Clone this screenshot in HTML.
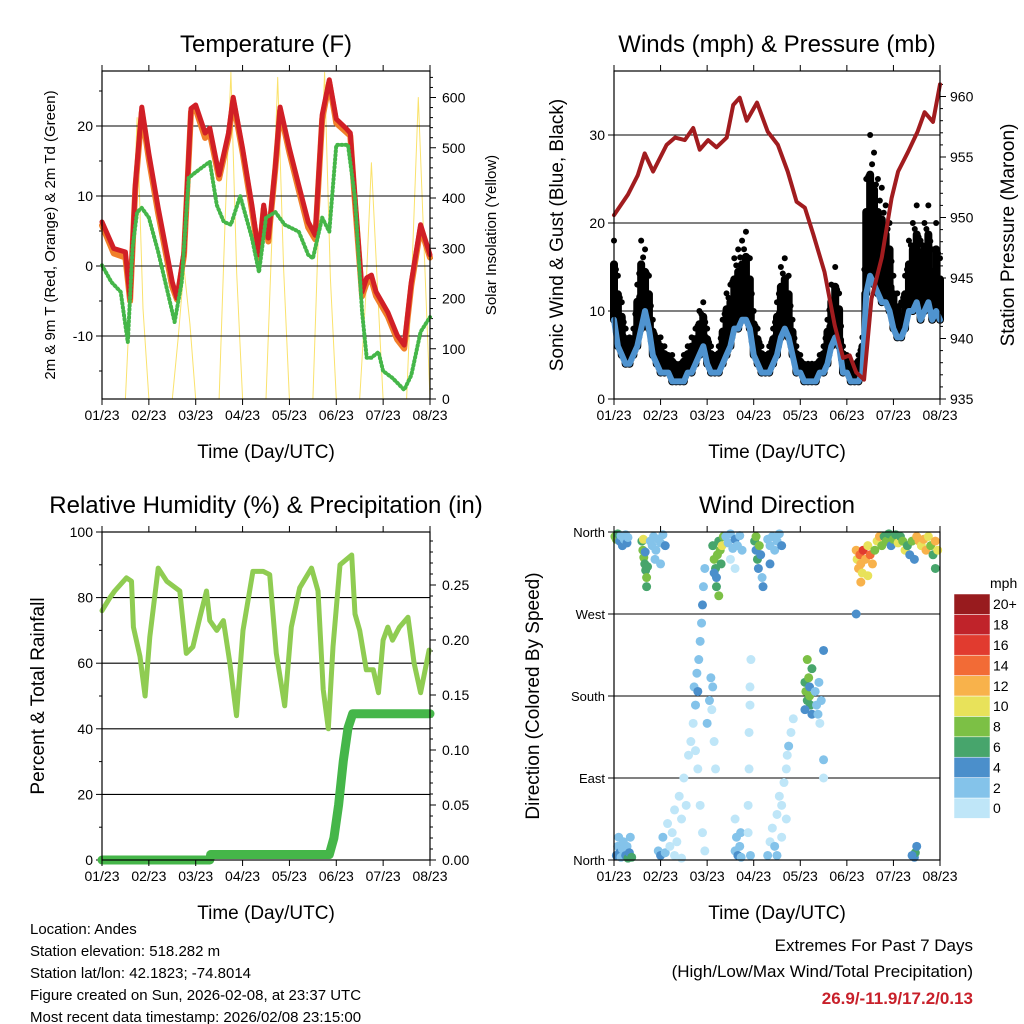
<!DOCTYPE html>
<html><head><meta charset="utf-8">
<style>
html,body{margin:0;padding:0;background:#fff;}
svg{display:block;font-family:"Liberation Sans",Arial,sans-serif;}
</style></head>
<body>
<svg id="c" width="1024" height="1024" viewBox="0 0 1024 1024" xmlns="http://www.w3.org/2000/svg">
<rect x="0" y="0" width="1024" height="1024" fill="#fff"/>
<g id="g"></g>
<!-- footer -->
<g font-size="15" fill="#000">
<text x="30" y="934">Location: Andes</text>
<text x="30" y="956">Station elevation: 518.282 m</text>
<text x="30" y="978">Station lat/lon: 42.1823; -74.8014</text>
<text x="30" y="1000">Figure created on Sun, 2026-02-08, at 23:37 UTC</text>
<text x="30" y="1022">Most recent data timestamp: 2026/02/08 23:15:00</text>
</g>
<g font-size="17" text-anchor="end">
<text x="973" y="951">Extremes For Past 7 Days</text>
<text x="973" y="977">(High/Low/Max Wind/Total Precipitation)</text>
<text x="973" y="1004" fill="#c8202a" font-weight="bold">26.9/-11.9/17.2/0.13</text>
</g>
</svg>
<script>
// ---------- DATA ----------
const dayLabels = ["01/23","02/23","03/23","04/23","05/23","06/23","07/23","08/23"];
const tempTime = [0,0.25,0.5,0.6,0.71,0.85,1.0,1.2,1.5,1.6,1.75,1.9,2.0,2.2,2.3,2.5,2.7,2.8,3.0,3.2,3.35,3.45,3.55,3.7,3.8,4.0,4.2,4.4,4.55,4.7,4.85,5.0,5.2,5.3,5.4,5.55,5.65,5.75,5.85,6.1,6.3,6.45,6.6,6.8,7.0];
const tempRed = [6.3,2.5,2,-4.6,11.5,22.7,16,8.3,-2.3,-4.6,2,22.5,23,19,19.7,13,19,24.1,16.8,8.7,1.6,8.7,4,14.4,22.7,16.8,11.5,6.3,4.4,21.6,26.6,21,19.7,19,9.7,-3.7,-1.7,-1.3,-3.7,-6.6,-9.9,-11.3,-2.3,5.9,1.6];
const tempOrange = [5.8,1.8,1.2,-5,11,22,15.2,7.5,-3,-4.8,1.5,22,22.4,18.3,19,12.5,18.4,23.6,16.2,8,1.2,8.2,3.5,14,22.2,16.2,10.8,5.5,3.8,21,26.2,20.4,19.2,18.6,9,-4.3,-2.4,-2,-4.3,-7.2,-10.5,-11.8,-2.8,5.4,1.2];
const dewTime = [0,0.2,0.4,0.55,0.65,0.75,0.85,1.0,1.2,1.4,1.55,1.7,1.85,2.0,2.3,2.45,2.6,2.75,2.95,3.2,3.35,3.5,3.7,3.9,4.2,4.4,4.5,4.7,4.85,5.0,5.25,5.4,5.55,5.65,5.75,5.9,6.0,6.2,6.45,6.6,6.8,7.0];
const dewVal = [0.1,-2.3,-3.7,-10.9,2.6,7.7,8.3,6.9,2,-3.7,-8,-2.3,12.6,13.4,14.9,8.7,6.3,5.9,10,4,-0.9,6.9,7.7,5.9,4.9,1.6,1.1,6.9,4.9,17.3,17.3,9.7,-6.6,-13.1,-13.1,-12.3,-15,-16,-17.7,-15.6,-9.4,-7.3];
const solarVal = [0,0,0,0,0,250,560,180, 0,0,0,0,0,120,260,150, 0,0,0,0,0,350,650,250, 0,0,0,0,0,320,640,260, 0,0,0,0,0,350,650,240, 0,0,0,0,0,200,470,230, 0,0,0,0,0,280,600,300, 0];
const tempTicks = [-10,0,10,20];
const solarTicks = [0,100,200,300,400,500,600];

const windVal = [9,6,5,4,4,5,6,8,10,8,5,4, 3,3,3,2,2,2,2,3,3,4,5,6, 4,3,3,3,4,5,6,8,8,9,9,8, 5,4,3,3,3,4,5,7,8,7,5,3, 3,2,2,2,2,3,3,4,6,7,6,3, 3,2,2,2,3,12,14,13,12,11,11,10, 8,7,7,8,10,10,11,9,10,11,9,10, 9];
const gustVal = [18,14,11,8,7,8,13,18,17,14,9,7, 7,6,5,5,4,4,5,6,7,8,10,11, 8,6,5,6,9,12,13,16,17,18,19,16, 10,8,6,5,6,8,11,15,16,14,9,6, 5,4,4,4,4,5,6,9,13,15,12,6, 5,4,4,5,7,25,30,28,25,24,22,20, 14,12,11,14,18,20,22,18,20,22,17,20, 16];
const presTime = [0,0.3,0.51,0.66,0.84,1.13,1.31,1.52,1.7,1.84,2.02,2.2,2.42,2.56,2.7,2.85,3.07,3.3,3.52,3.73,3.92,4.1,4.28,4.52,4.74,4.92,5.06,5.2,5.37,5.53,5.75,5.96,6.1,6.31,6.52,6.67,6.85,7.0];
const presVal = [950.2,951.9,953.5,955.3,953.8,956,956.6,956.4,957.4,955.6,956.4,955.8,956.6,959.3,959.9,958,959.5,957.1,956,953.8,951.3,950.8,948.6,945.5,941.1,938.4,938.6,937.2,936.6,943.3,946.7,951.6,953.8,955.4,957.1,958.7,957.9,961];
const windTicks = [0,10,20,30];
const presTicks = [935,940,945,950,955,960];

const rhTime = [0,0.17,0.27,0.52,0.63,0.67,0.81,0.92,1.02,1.2,1.38,1.66,1.8,1.94,2.09,2.23,2.3,2.45,2.59,2.73,2.87,3.01,3.22,3.44,3.58,3.72,3.9,4.04,4.22,4.47,4.61,4.72,4.83,4.93,5.08,5.33,5.4,5.5,5.64,5.79,5.9,6.0,6.1,6.2,6.35,6.53,6.66,6.8,6.98];
const rhVal = [76,80,82,86,85,71,62,50,68,89,85,82,63,65,74,82,73,70,73,60,44,70,88,88,87,63,47,71,83,89,82,52,40,65,90,93,75,70,58,58,51,67,71,67,71,74,60,51,64];
const precipTime = [0,2.3,2.32,4.85,4.95,5.05,5.15,5.25,5.35,7.0];
const precipVal = [0,0,0.005,0.005,0.02,0.05,0.09,0.12,0.133,0.133];
const rhTicks = [0,20,40,60,80,100];
const precipTicks = [0,0.05,0.10,0.15,0.20,0.25];

const wdTime = [0.02,0.05,0.08,0.12,0.15,0.18,0.22,0.25,0.28,0.3, 0.05,0.08,0.1,0.12,0.15,0.18,0.2,0.25,0.28,0.3,0.33,0.35,0.38, 0.6,0.62,0.64,0.66,0.68,0.7,0.72,0.63,0.67,0.7, 0.78,0.82,0.85,0.9,0.95,1.0,1.05,1.1,0.88,1.0, 0.95,1.0,1.05,1.1,1.15,1.2,1.25,1.3,1.35,1.4,1.45,1.5,1.55,1.3,1.45,1.6,1.65, 1.7,1.75,1.72,1.78,1.8,1.82,1.85,1.88,1.9,1.92,1.95,1.75,1.8,1.85,1.9,1.95,2.0,2.05,2.08,2.1,2.12,2.15,2.18, 2.12,2.15,2.18,2.2,2.22,2.25,2.28,2.3,2.32,2.35,2.2,2.25,2.15, 2.4,2.45,2.5,2.55,2.6,2.65,2.7,2.75,2.5,2.6, 2.6,2.63,2.66,2.7,2.73,2.6,2.72, 2.88,2.9,2.9,2.92,2.92,2.94,2.88,2.93, 3.02,3.05,3.08,3.1,3.12,3.15,3.18,3.2,3.05, 3.3,3.35,3.4,3.45,3.5,3.55,3.6,3.35, 3.3,3.35,3.4,3.45,3.5,3.55,3.6,3.65,3.7,3.72,3.75,3.8,3.85,3.6,3.7,3.5, 4.1,4.12,4.15,4.18,4.2,4.22,4.25,4.15,4.2,4.25,4.1, 4.32,4.35,4.38,4.4,4.42,4.45,4.5,4.5,4.5, 5.2,5.22,5.25,5.28,5.3,5.33,5.35,5.4,5.45,5.5,5.55,5.6,5.65,5.7,5.75,5.3,5.45,5.2, 5.8,5.85,5.9,5.95,6.0,6.05,6.1,6.15,6.2,6.25,6.3,6.35,6.4,6.45, 6.5,6.55,6.6,6.65,6.7,6.75,6.8,6.85,6.9,6.95,6.9, 6.45,6.47,6.5,6.4];
const wdDir = [355,352,358,350,356,345,352,357,348,354, 5,15,25,8,3,12,20,5,15,2,8,25,3, 350,340,332,325,318,310,322,352,338,300, 350,345,355,340,352,348,357,345,330,325, 10,5,25,8,40,15,30,55,20,70,45,90,60,5,2,115,130, 150,170,190,205,185,220,240,260,280,300,320,120,100,60,30,10,150,175,200,165,190,130,100, 345,330,320,310,335,350,340,325,345,355,300,290,315, 355,348,358,342,352,345,356,340,330,320, 10,25,5,15,3,45,30, 60,100,140,170,190,220,30,5, 350,340,330,320,345,335,310,300,355, 352,345,355,340,350,358,345,325, 5,20,35,15,50,70,60,85,100,115,125,140,155,25,45,5, 195,185,175,200,190,170,210,220,180,160,165, 185,170,160,195,150,175,230,110,90, 340,330,320,335,325,315,340,330,345,335,325,340,350,355,345,305,312,270, 355,350,358,345,352,357,348,355,350,340,345,335,350,330, 355,350,345,352,340,355,345,335,350,340,320, 3,8,15,5];
const wdSpeed = [9,8,6,4,3,4,3,2,4,3, 4,3,2,4,3,2,3,4,2,6,4,2,6, 6,8,8,6,6,8,6,10,4,6, 2,3,2,3,2,3,2,4,2,2, 2,4,3,2,0,1,0,0,1,0,1,0,0,1,0,0,0, 1,2,2,3,4,2,2,3,4,3,2,0,0,1,0,1,2,3,2,1,3,1,0, 6,8,6,4,8,6,8,6,10,8,6,8,4, 3,2,3,2,4,3,2,3,0,0, 3,2,4,2,3,0,2, 0,0,0,0,0,0,1,2, 6,4,6,4,8,4,3,4,8, 3,2,3,2,3,2,4,4, 3,1,0,2,0,1,0,0,0,1,2,1,0,0,0,2, 6,8,6,8,4,6,6,8,8,4,4, 2,3,2,3,1,2,4,2,1, 12,10,12,14,12,10,16,12,10,14,12,8,10,12,8,12,10,4, 6,8,6,4,8,6,10,6,8,10,6,4,8,4, 12,12,10,12,12,10,8,6,12,10,6, 4,6,4,4];
const dirTicks = ["North","East","South","West","North"];
const speedLabels = ["0","2","4","6","8","10","12","14","16","18","20+"];
const speedColors = ["#bfe6f8","#84c3ea","#4b8fcb","#47a56c","#7cc045","#e8e25a","#f8b24b","#f26b36","#e13b2f","#c0232a","#981b1e"];

// ---------- DRAW ----------
const NS="http://www.w3.org/2000/svg";
const G=document.getElementById('g');
function el(tag,attrs,parent){const e=document.createElementNS(NS,tag);for(const k in attrs)e.setAttribute(k,attrs[k]);(parent||G).appendChild(e);return e;}
function txt(x,y,s,attrs,parent){const e=el('text',Object.assign({x:x,y:y},attrs||{}),parent);e.textContent=s;return e;}

function panel(name,x0,y0,w,h,title,titleSize){
  const g=el('g',{});
  
  
  const t=txt(x0+w/2,y0-19,title,{'text-anchor':'middle','font-size':titleSize||24},g);
  
  
  return g;
}
function frame(g,x0,y0,w,h){
  el('rect',{x:x0,y:y0,width:w,height:h,fill:'none',stroke:'#000','stroke-width':1.2},g);
}
function xAxis(g,name,x0,y0,w,h){
  const xs=t=>x0+t*w/7;
  for(let i=0;i<dayLabels.length;i++){
    const x=xs(i);
    el('line',{x1:x,y1:y0+h,x2:x,y2:y0+h+6,stroke:'#000'},g);
    el('line',{x1:x,y1:y0,x2:x,y2:y0-6,stroke:'#000'},g);
    const l=txt(x,y0+h+21,dayLabels[i],{'text-anchor':'middle','font-size':14},g);
    
    
  }
  const at=txt(x0+w/2,y0+h+59,"Time (Day/UTC)",{'text-anchor':'middle','font-size':19},g);
  
  
  return xs;
}
function yTitle(g,name,x,y,s,size){
  const e=txt(x,y,s,{'text-anchor':'middle','font-size':size,transform:`rotate(-90 ${x} ${y})`},g);
  
  
}
function path(g,xs,ys,xArr,yArr,attrs,name){
  let d='';for(let i=0;i<xArr.length;i++)d+=(i?'L':'M')+xs(xArr[i]).toFixed(1)+','+ys(yArr[i]).toFixed(1);
  const p=el('path',Object.assign({d:d,fill:'none','stroke-linejoin':'round','stroke-linecap':'round'},attrs),g);
  
  
  return p;
}

// Panel 1: Temperature
(function(){
  const x0=102,y0=71,w=328,h=328;
  const g=panel('temperature-chart',x0,y0,w,h,'Temperature (F)');
  const ys=v=>266-v*7;
  const ysS=v=>399-v*0.5025;
  const xs=t=>x0+t*w/7;
  const st=solarVal.map((v,i)=>i*0.125);
  path(g,xs,ysS,st,solarVal,{stroke:'#f9df5c','stroke-width':1,opacity:0.9},'solar-insolation-line');
  tempTicks.forEach(v=>{el('line',{x1:x0,x2:x0+w,y1:ys(v),y2:ys(v),stroke:'#000','stroke-width':1.1},g);
    el('line',{x1:x0-6,x2:x0,y1:ys(v),y2:ys(v),stroke:'#000'},g);
    const l=txt(x0-9,ys(v)+5,String(v),{'text-anchor':'end','font-size':14},g);
    });
  for(let v=-15;v<=25;v+=10)el('line',{x1:x0-3,x2:x0,y1:ys(v),y2:ys(v),stroke:'#000'},g);
  solarTicks.forEach(v=>{el('line',{x1:x0+w,x2:x0+w+6,y1:ysS(v),y2:ysS(v),stroke:'#000'},g);
    const l=txt(x0+w+12,ysS(v)+5,String(v),{'font-size':14},g);
    });
  for(let v=20;v<=640;v+=20)if(v%100)el('line',{x1:x0+w,x2:x0+w+3,y1:ysS(v),y2:ysS(v),stroke:'#000'},g);
  path(g,xs,ys,tempTime,tempOrange,{stroke:'#f07f2a','stroke-width':6},'temp-9m-line');
  path(g,xs,ys,tempTime,tempRed,{stroke:'#d11f26','stroke-width':5},'temp-2m-line');
  path(g,xs,ys,dewTime,dewVal,{stroke:'#45b649','stroke-width':4,'stroke-dasharray':'1 3'},'dewpoint-line');
  path(g,xs,ys,dewTime,dewVal,{stroke:'#45b649','stroke-width':2},'dewpoint-line-core');
  frame(g,x0,y0,w,h);xAxis(g,'temperature',x0,y0,w,h);
  yTitle(g,'temperature-y-axis-title',55,235,'2m & 9m T (Red, Orange) & 2m Td (Green)',15);
  yTitle(g,'solar-y-axis-title',496,235,'Solar Insolation (Yellow)',15);
})();

// Panel 2: Winds & Pressure
(function(){
  const x0=614,y0=71,w=326,h=328;
  const g=panel('winds-pressure-chart',x0,y0,w,h,'Winds (mph) & Pressure (mb)');
  const ys=v=>399-v*8.8;
  const ysP=v=>399-(v-935)*12.1;
  const xs=t=>x0+t*w/7;
  windTicks.forEach(v=>{el('line',{x1:x0,x2:x0+w,y1:ys(v),y2:ys(v),stroke:'#000','stroke-width':1.1},g);
    el('line',{x1:x0-6,x2:x0,y1:ys(v),y2:ys(v),stroke:'#000'},g);
    const l=txt(x0-9,ys(v)+5,String(v),{'text-anchor':'end','font-size':14},g);
    });
  presTicks.forEach(v=>{el('line',{x1:x0+w,x2:x0+w+6,y1:ysP(v),y2:ysP(v),stroke:'#000'},g);
    const l=txt(x0+w+10,ysP(v)+5,String(v),{'font-size':14},g);
    });
  for(let v=936;v<=961;v++)if(v%5)el('line',{x1:x0+w,x2:x0+w+3,y1:ysP(v),y2:ysP(v),stroke:'#000'},g);
  const wt=windVal.map((v,i)=>i/12);
  // gust clusters
  for(let i=0;i<gustVal.length;i++){
    const x=xs(wt[i]);
    const b=el('line',{x1:x,x2:x,y1:ys(windVal[i]),y2:ys(gustVal[i]*0.85),stroke:'#000','stroke-width':8,'stroke-linecap':'round'},g);
    
    const c=el('circle',{cx:x,cy:ys(gustVal[i]),r:3,fill:'#000'},g);
    
    if(i<gustVal.length-1){
      const xm=(x+xs(wt[i+1]))/2;
      const gm=(gustVal[i]+gustVal[i+1])/2;
      const c2=el('circle',{cx:xm,cy:ys(gm*0.92),r:3,fill:'#000'},g);
      
      const b2=el('line',{x1:xm,x2:xm,y1:ys((windVal[i]+windVal[i+1])/2),y2:ys(gm*0.75),stroke:'#000','stroke-width':6,'stroke-linecap':'round'},g);
      
    }
  }
  path(g,xs,ys,wt,windVal,{stroke:'#4f93cf','stroke-width':6},'sonic-wind-line');
  path(g,xs,ysP,presTime,presVal,{stroke:'#a11c1f','stroke-width':4},'pressure-line');
  frame(g,x0,y0,w,h);xAxis(g,'winds',x0,y0,w,h);
  yTitle(g,'wind-y-axis-title',563,235,'Sonic Wind & Gust (Blue, Black)',19);
  yTitle(g,'pressure-y-axis-title',1014,235,'Station Pressure (Maroon)',19);
})();

// Panel 3: RH & Precip
(function(){
  const x0=102,y0=532,w=328,h=328;
  const g=panel('humidity-precip-chart',x0,y0,w,h,'Relative Humidity (%) & Precipitation (in)');
  const ys=v=>860-v*3.28;
  const ysR=v=>860-v*1100;
  const xs=t=>x0+t*w/7;
  rhTicks.forEach(v=>{if(v>0&&v<100)el('line',{x1:x0,x2:x0+w,y1:ys(v),y2:ys(v),stroke:'#000','stroke-width':1.1},g);
    el('line',{x1:x0-6,x2:x0,y1:ys(v),y2:ys(v),stroke:'#000'},g);
    const l=txt(x0-9,ys(v)+5,String(v),{'text-anchor':'end','font-size':14},g);
    });
  for(let v=10;v<100;v+=20)el('line',{x1:x0-3,x2:x0,y1:ys(v),y2:ys(v),stroke:'#000'},g);
  precipTicks.forEach(v=>{el('line',{x1:x0+w,x2:x0+w+6,y1:ysR(v),y2:ysR(v),stroke:'#000'},g);
    const l=txt(x0+w+12,ysR(v)+5,v.toFixed(2),{'font-size':14},g);
    });
  for(let i=1;i<30;i++)if(i%5)el('line',{x1:x0+w,x2:x0+w+3,y1:ysR(i/100),y2:ysR(i/100),stroke:'#000'},g);
  path(g,xs,ys,rhTime,rhVal,{stroke:'#8fcc52','stroke-width':5},'rh-line');
  path(g,xs,ysR,precipTime,precipVal,{stroke:'#45b649','stroke-width':9},'precip-line');
  frame(g,x0,y0,w,h);xAxis(g,'humidity',x0,y0,w,h);
  yTitle(g,'humidity-y-axis-title',44,696,'Percent & Total Rainfall',19);
})();

// Panel 4: Wind direction
(function(){
  const x0=614,y0=532,w=326,h=328;
  const g=panel('wind-direction-chart',x0,y0,w,h,'Wind Direction');
  const ys=d=>860-d/360*h;
  const xs=t=>x0+t*w/7;
  dirTicks.forEach((s,i)=>{const y=ys(i*90);
    if(i>0&&i<4)el('line',{x1:x0,x2:x0+w,y1:y,y2:y,stroke:'#000','stroke-width':1.1},g);
    el('line',{x1:x0-6,x2:x0,y1:y,y2:y,stroke:'#000'},g);
    const l=txt(x0-9,y+5,s,{'text-anchor':'end','font-size':13},g);
    });
  for(let i=0;i<wdTime.length;i++){
    const k=Math.min(10,Math.floor(wdSpeed[i]/2));
    const c=el('circle',{cx:xs(wdTime[i]),cy:ys(wdDir[i]),r:4.5,fill:speedColors[k]},g);
    
    
  }
  frame(g,x0,y0,w,h);xAxis(g,'wind-direction',x0,y0,w,h);
  yTitle(g,'direction-y-axis-title',539,696,'Direction (Colored By Speed)',19);
  // colorbar
  const cb=el('g',{},g);
  
  
  const bh=20.4;
  txt(990,588,'mph',{'font-size':14,'text-anchor':'start'},cb);
  for(let i=0;i<speedColors.length;i++){
    const y=594+(10-i)*bh;
    const r=el('rect',{x:954,y:y,width:36,height:bh,fill:speedColors[i],stroke:'#fff','stroke-width':0.5},cb);
    
    
    const l=txt(993,y+bh/2+5,speedLabels[i],{'font-size':14},cb);
    
    
  }
})();
</script>
</body></html>
